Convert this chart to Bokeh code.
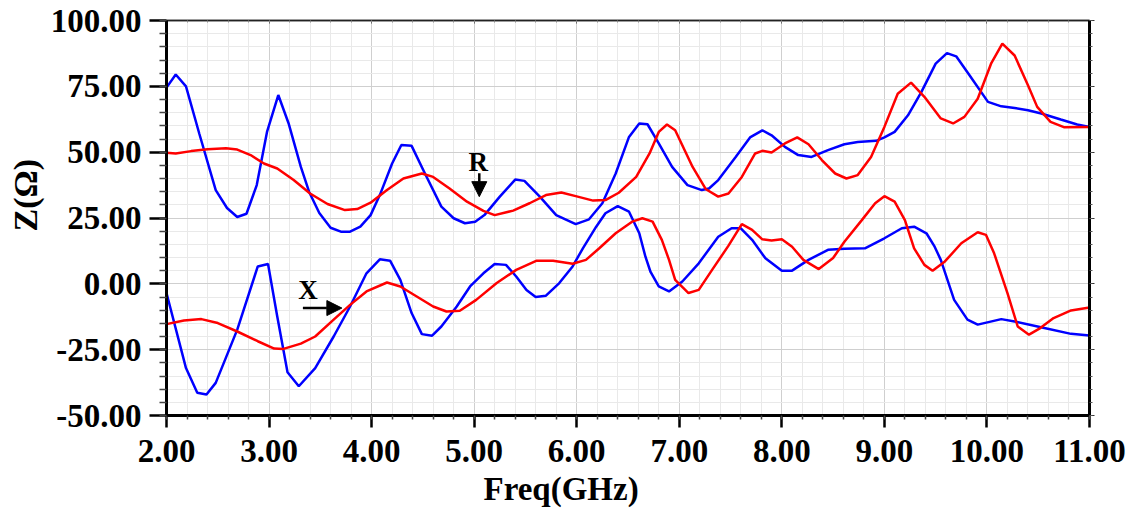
import math
from bokeh.plotting import figure
from bokeh.models import (FixedTicker, PrintfTickFormatter, LinearAxis, Label,
                          Arrow, NormalHead, Range1d, Title)
from bokeh.embed import file_html
from bokeh.resources import INLINE

# ---------------- data ----------------
freq_blue_R = [2.00, 2.09, 2.19, 2.32, 2.48, 2.59, 2.69, 2.78, 2.88, 2.98, 3.09, 3.19, 3.31, 3.39, 3.49,
               3.60, 3.70, 3.79, 3.89, 3.99, 4.08, 4.20, 4.29, 4.39, 4.52, 4.68, 4.80, 4.91, 5.01, 5.10,
               5.25, 5.40, 5.49, 5.64, 5.80, 5.99, 6.12, 6.25, 6.38, 6.51, 6.61, 6.69, 6.80, 6.93, 7.08,
               7.22, 7.29, 7.38, 7.55, 7.69, 7.81, 7.90, 8.03, 8.16, 8.29, 8.45, 8.61, 8.74, 8.92, 9.00,
               9.10, 9.23, 9.36, 9.50, 9.61, 9.70, 9.83, 10.01, 10.14, 10.27, 10.40, 10.53, 10.72, 10.88, 11.00]
R_blue = [74.5, 79.5, 75.0, 57.0, 35.6, 28.8, 25.4, 26.6, 37.5, 57.7, 71.7, 61.0, 44.4, 35.0, 26.9,
          21.3, 19.8, 19.8, 21.7, 26.1, 33.7, 45.7, 52.7, 52.4, 41.9, 29.3, 24.9, 23.0, 23.6, 26.1,
          33.1, 39.6, 39.1, 33.1, 26.1, 22.7, 24.5, 30.6, 41.9, 55.8, 60.9, 60.6, 53.3, 44.4, 37.5,
          35.6, 36.2, 39.4, 48.2, 55.6, 58.3, 56.4, 52.0, 48.9, 48.2, 50.8, 53.0, 53.9, 54.3, 55.6,
          57.7, 64.0, 72.8, 83.6, 87.6, 86.4, 79.2, 69.1, 67.4, 66.8, 65.9, 64.7, 62.4, 60.5, 59.6]

freq_red_R = [2.00, 2.09, 2.24, 2.40, 2.58, 2.69, 2.82, 2.95, 3.08, 3.24, 3.40, 3.57, 3.74, 3.86, 3.99,
              4.15, 4.31, 4.49, 4.60, 4.76, 4.93, 5.09, 5.20, 5.38, 5.54, 5.70, 5.85, 5.99, 6.16, 6.28,
              6.41, 6.58, 6.71, 6.80, 6.88, 6.96, 7.13, 7.26, 7.38, 7.48, 7.61, 7.74, 7.81, 7.90, 8.03,
              8.15, 8.26, 8.39, 8.52, 8.63, 8.74, 8.87, 9.00, 9.13, 9.26, 9.39, 9.55, 9.67, 9.78, 9.91,
              10.04, 10.15, 10.27, 10.40, 10.49, 10.62, 10.75, 11.00]
R_red = [49.8, 49.5, 50.4, 51.1, 51.5, 51.0, 48.9, 45.7, 43.8, 39.4, 34.3, 30.3, 28.0, 28.4, 30.8,
         35.6, 40.0, 41.9, 40.6, 36.2, 31.2, 27.7, 26.1, 27.8, 30.6, 33.7, 34.7, 33.3, 31.6, 31.8,
         34.6, 40.6, 49.5, 57.7, 60.5, 58.3, 44.4, 35.9, 33.1, 34.3, 40.6, 49.5, 50.5, 49.9, 53.3,
         55.6, 53.0, 47.0, 41.9, 40.0, 41.3, 48.2, 59.6, 72.2, 76.4, 71.0, 62.8, 60.9, 63.4, 70.3,
         83.6, 91.2, 86.7, 75.4, 67.2, 61.5, 59.5, 59.6]

freq_blue_X = [2.00, 2.19, 2.30, 2.39, 2.48, 2.69, 2.89, 2.99, 3.08, 3.18, 3.29, 3.45, 3.63, 3.79, 3.95,
               4.08, 4.18, 4.28, 4.39, 4.49, 4.59, 4.68, 4.83, 4.96, 5.09, 5.20, 5.31, 5.41, 5.51, 5.60,
               5.70, 5.83, 5.96, 6.06, 6.19, 6.28, 6.40, 6.51, 6.61, 6.67, 6.72, 6.80, 6.90, 7.03, 7.19,
               7.38, 7.51, 7.60, 7.71, 7.84, 8.00, 8.10, 8.26, 8.45, 8.61, 8.81, 9.00, 9.17, 9.29, 9.41,
               9.49, 9.55, 9.68, 9.81, 9.91, 10.14, 10.27, 10.56, 10.82, 11.00]
X_blue = [-3.5, -32.0, -41.4, -42.0, -37.6, -17.4, 6.6, 7.5, -12.4, -33.6, -38.9, -32.0, -20.0, -8.6, 4.0,
          9.3, 8.8, 1.5, -11.1, -19.1, -19.7, -16.2, -8.6, -1.0, 4.0, 7.5, 7.2, 2.8, -2.3, -5.0,
          -4.5, 0.3, 6.6, 13.5, 21.7, 26.8, 29.5, 27.4, 19.2, 10.3, 4.5, -1.0, -2.9, 0.9, 7.8,
          17.9, 21.1, 21.1, 16.7, 9.7, 5.0, 5.0, 9.1, 12.9, 13.3, 13.5, 17.3, 21.1, 21.7, 19.2,
          14.1, 9.1, -6.1, -13.6, -15.5, -13.4, -14.3, -16.8, -19.0, -19.6]

freq_red_X = [2.00, 2.17, 2.34, 2.50, 2.69, 2.89, 3.05, 3.14, 3.31, 3.45, 3.63, 3.79, 3.95, 4.15, 4.28,
              4.44, 4.60, 4.73, 4.86, 5.02, 5.22, 5.41, 5.61, 5.77, 5.96, 6.09, 6.22, 6.38, 6.54, 6.64,
              6.74, 6.83, 6.90, 6.96, 7.09, 7.19, 7.32, 7.48, 7.61, 7.71, 7.81, 7.90, 8.00, 8.10, 8.21,
              8.36, 8.50, 8.61, 8.78, 8.91, 9.00, 9.10, 9.20, 9.29, 9.39, 9.47, 9.59, 9.75, 9.91, 9.99,
              10.07, 10.20, 10.30, 10.41, 10.52, 10.65, 10.82, 11.00]
X_red = [-15.3, -13.9, -13.4, -14.9, -18.1, -21.8, -24.6, -24.7, -22.7, -20.0, -13.6, -8.0, -2.9, 0.5, -1.0,
         -4.8, -8.6, -10.5, -10.2, -6.1, 0.3, 5.3, 8.8, 8.8, 7.6, 9.1, 13.5, 19.2, 23.6, 24.9,
         23.6, 16.7, 9.1, 1.5, -3.5, -2.3, 5.3, 14.5, 22.7, 20.5, 16.9, 16.5, 16.9, 14.1, 9.1,
         5.6, 9.8, 16.0, 24.2, 30.6, 33.3, 31.2, 24.2, 13.5, 7.2, 5.0, 8.5, 15.4, 19.6, 18.6,
         11.6, -3.5, -16.2, -19.3, -16.8, -13.0, -10.1, -9.0]

x_major_ticks = [2, 3, 4, 5, 6, 7, 8, 9, 10, 11]
y_major_ticks = [-50, -25, 0, 25, 50, 75, 100]
x_label = "Freq(GHz)"
y_label = "Z(Ω)"
annot_R = "R"
annot_X = "X"

# ---------------- figure ----------------
FONT = "Liberation Serif"

p = figure(width=1143, height=510, output_backend="svg", toolbar_location=None,
           x_range=Range1d(2, 11), y_range=Range1d(-50, 100),
           min_border_left=162, min_border_right=54, min_border_top=20, min_border_bottom=94)
p.background_fill_color = "white"
p.border_fill_color = "white"
p.outline_line_color = "#222222"
p.outline_line_width = 1.5

x_minor = [round(2 + 0.2 * i, 2) for i in range(46)]
y_minor = [-50 + 5 * i for i in range(31)]
xt = FixedTicker(ticks=x_major_ticks, minor_ticks=x_minor)
yt = FixedTicker(ticks=y_major_ticks, minor_ticks=y_minor)

for ax, t in ((p.xaxis[0], xt), (p.yaxis[0], yt)):
    ax.ticker = t
    ax.formatter = PrintfTickFormatter(format="%.2f")
    ax.major_label_text_font = FONT
    ax.major_label_text_font_style = "bold"
    ax.major_label_text_font_size = "33px"
    ax.major_label_text_color = "black"
    ax.axis_line_width = 3
    ax.axis_line_color = "black"
    ax.major_tick_line_width = 2.5
    ax.minor_tick_line_width = 1.5
    ax.major_tick_line_color = "black"
    ax.minor_tick_line_color = "#444444"
    ax.major_tick_in = 0
    ax.minor_tick_in = 0

p.xaxis.major_tick_out = 12
p.xaxis.minor_tick_out = 4
p.xaxis.major_label_standoff = 12
p.xaxis.major_label_text_line_height = 0.8
p.yaxis.major_tick_out = 17
p.yaxis.minor_tick_out = 7
p.yaxis.major_label_standoff = 8

# right axis: thick line, short ticks, no labels
ra = LinearAxis(ticker=yt, axis_line_width=3, axis_line_color="black",
                major_tick_out=5, minor_tick_out=3, major_tick_in=0, minor_tick_in=0,
                major_tick_line_color="#333333", minor_tick_line_color="#555555",
                major_label_text_alpha=0, major_label_text_font_size="1px")
p.add_layout(ra, "right")
ta = LinearAxis(ticker=xt, axis_line_width=1.5, axis_line_color="#222222",
                major_tick_in=3, major_tick_out=0, minor_tick_in=2, minor_tick_out=0,
                major_tick_line_color="#555555", minor_tick_line_color="#888888",
                major_label_text_alpha=0, major_label_text_font_size="1px")
p.add_layout(ta, "above")

# axis titles (placed as in the reference, slightly off-centre)
p.add_layout(Title(text=x_label, align="left", offset=317, standoff=8,
                   text_font=FONT, text_font_style="bold", text_font_size="33px",
                   text_line_height=0.8, text_color="black"), "below")
p.add_layout(Title(text=y_label, align="left", offset=184, standoff=8,
                   text_font=FONT, text_font_style="bold", text_font_size="34px",
                   text_color="black"), "left")

p.xgrid.ticker = xt
p.ygrid.ticker = yt
for g in (p.xgrid[0], p.ygrid[0]):
    g.grid_line_color = "#cfcfcf"
    g.grid_line_width = 1
    g.minor_grid_line_color = "#e9e9e9"
    g.minor_grid_line_width = 1

# curves
p.line(freq_blue_R, R_blue, line_color="#0000ff", line_width=2.5)
p.line(freq_red_R, R_red, line_color="#ff0000", line_width=2.5)
p.line(freq_blue_X, X_blue, line_color="#0000ff", line_width=2.5)
p.line(freq_red_X, X_red, line_color="#ff0000", line_width=2.5)

# annotations
p.add_layout(Label(x=5.04, y=46.3, text=annot_R, text_font=FONT, text_font_style="bold",
                   text_font_size="27px", text_color="black",
                   text_align="center", text_baseline="middle"))
p.add_layout(Arrow(x_start=5.05, y_start=42.0, x_end=5.05, y_end=33.1, line_width=2.5,
                   line_color="black",
                   end=NormalHead(size=15, fill_color="black", line_color="black")))
p.add_layout(Label(x=3.38, y=-2.3, text=annot_X, text_font=FONT, text_font_style="bold",
                   text_font_size="27px", text_color="black",
                   text_align="center", text_baseline="middle"))
p.add_layout(Arrow(x_start=3.33, y_start=-9.2, x_end=3.71, y_end=-9.2, line_width=2.5,
                   line_color="black",
                   end=NormalHead(size=15, fill_color="black", line_color="black")))

open("out.html", "w").write(file_html(p, INLINE))
